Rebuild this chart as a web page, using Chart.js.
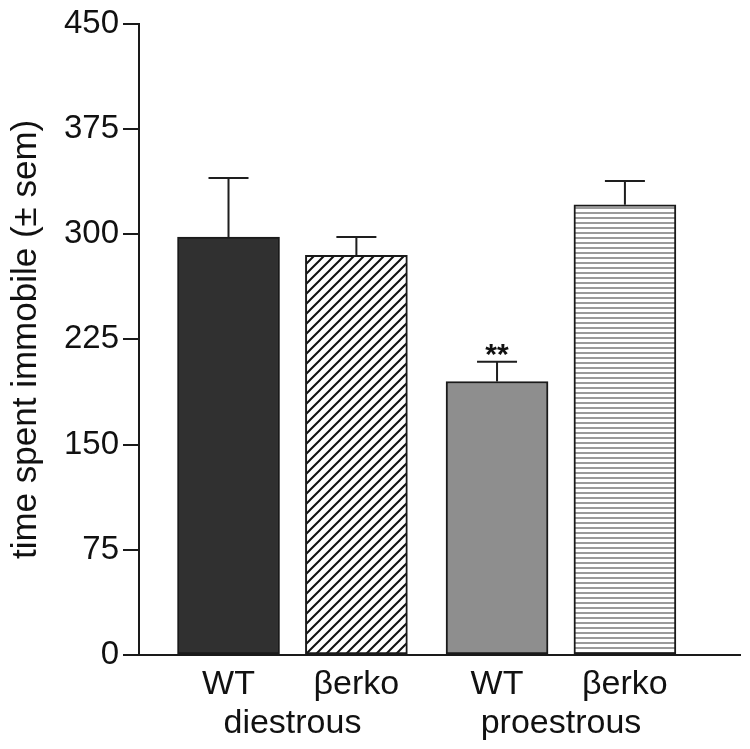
<!DOCTYPE html>
<html>
<head>
<meta charset="utf-8">
<script src="https://cdn.jsdelivr.net/npm/chart.js@4"></script>
<style>
  html, body { margin: 0; padding: 0; background: #fff; }
  #wrap { width: 750px; height: 749px; }
</style>
</head>
<body>
<div id="wrap"><canvas id="bar-Chart"></canvas></div>
<script>
// data
var groups = ['diestrous', 'proestrous'];
var genotypes = ['WT', 'βerko'];
var means = [298, 285, 195, 321];
var sem = [42, 13, 14, 17];
var sig = ['', '', '**', ''];
var yTicks = [0, 75, 150, 225, 300, 375, 450];

// bar slots along a linear x axis: one unit per bar, a small gap between groups
var groupGap = 0.1;
var barX = [];
var tickInfo = {};
for (var g = 0; g < groups.length; g++) {
    for (var i = 0; i < genotypes.length; i++) {
        var x = 1 + g * (genotypes.length + groupGap) + i;
        barX.push(x);
        tickInfo[x.toFixed(2)] = genotypes[i];
    }
    var mid = 1 + g * (genotypes.length + groupGap) + (genotypes.length - 1) / 2;
    tickInfo[mid.toFixed(2)] = ['', groups[g]];
}

function makePattern(type) {
    var c = document.createElement('canvas');
    var p = c.getContext('2d');
    if (type === 'diag') {
        c.width = 10; c.height = 10;
        p.fillStyle = '#fff';
        p.fillRect(0, 0, 10, 10);
        p.strokeStyle = '#111';
        p.lineWidth = 2;
        p.beginPath();
        p.moveTo(-2, 12); p.lineTo(12, -2);
        p.moveTo(-7, 7); p.lineTo(7, -7);
        p.moveTo(3, 17); p.lineTo(17, 3);
        p.stroke();
    } else {
        c.width = 4; c.height = 5;
        p.fillStyle = '#fff';
        p.fillRect(0, 0, 4, 5);
        p.fillStyle = '#9a9a9a';
        p.fillRect(0, 2, 4, 2);
    }
    return p.createPattern(c, 'repeat');
}

var fills = ['#303030', makePattern('diag'), '#8e8e8e', makePattern('horiz')];
var font = '"Liberation Sans", Arial, sans-serif';

var errorBars = {
    id: 'errorBars',
    afterDatasetsDraw: function (chart) {
        var ctx = chart.ctx;
        var yScale = chart.scales.y;
        var meta = chart.getDatasetMeta(0);
        ctx.save();
        ctx.strokeStyle = '#1e1e1e';
        ctx.lineWidth = 2;
        meta.data.forEach(function (bar, i) {
            var yTop = yScale.getPixelForValue(means[i] + sem[i]);
            ctx.beginPath();
            ctx.moveTo(bar.x, bar.y);
            ctx.lineTo(bar.x, yTop);
            ctx.moveTo(bar.x - 20, yTop);
            ctx.lineTo(bar.x + 20, yTop);
            ctx.stroke();
            if (sig[i]) {
                ctx.fillStyle = '#111';
                ctx.font = 'bold 30px ' + font;
                ctx.textAlign = 'center';
                ctx.textBaseline = 'alphabetic';
                ctx.fillText(sig[i], bar.x, yTop + 2);
            }
        });
        ctx.restore();
    }
};

var ctx = document.getElementById('bar-Chart');
var chart = new Chart(ctx, {
    type: 'bar',
    data: {
        datasets: [{
            label: 'time spent immobile',
            data: means.map(function (v, i) { return {x: barX[i], y: v}; }),
            backgroundColor: fills,
            borderColor: '#1a1a1a',
            borderWidth: 2,
            borderSkipped: false,
            barThickness: 102
        }]
    },
    options: {
        responsive: true,
        maintainAspectRatio: false,
        animation: false,
        layout: { padding: { top: 20, right: 10, left: 0, bottom: 0 } },
        plugins: {
            legend: { display: false },
            tooltip: { enabled: false }
        },
        scales: {
            x: {
                type: 'linear',
                offset: false,
                min: 0.3,
                max: 5,
                grid: { display: false, drawTicks: false },
                border: { display: true, color: '#1a1a1a', width: 2 },
                afterBuildTicks: function (axis) {
                    axis.ticks = Object.keys(tickInfo).map(function (k) { return {value: parseFloat(k)}; });
                },
                afterFit: function (axis) { axis.height = 94; },
                ticks: {
                    autoSkip: false,
                    maxRotation: 0,
                    padding: 10,
                    color: '#111',
                    font: { family: font, size: 34, lineHeight: 1.15 },
                    callback: function (value) { return tickInfo[value.toFixed(2)]; }
                }
            },
            y: {
                min: 0,
                max: 450,
                afterBuildTicks: function (axis) {
                    axis.ticks = yTicks.map(function (v) { return {value: v}; });
                },
                afterFit: function (axis) { axis.width = 139; },
                grid: { display: true, drawOnChartArea: false, tickLength: 16, color: '#1a1a1a', lineWidth: 2 },
                border: { display: true, color: '#1a1a1a', width: 2 },
                ticks: {
                    padding: 4,
                    color: '#111',
                    font: { family: font, size: 33 }
                },
                title: {
                    display: true,
                    text: 'time spent immobile (± sem)',
                    color: '#111',
                    padding: { top: 9, bottom: 0 },
                    font: { family: font, size: 35, lineHeight: 1.0 }
                }
            }
        }
    },
    plugins: [errorBars]
});
</script>
</body>
</html>
